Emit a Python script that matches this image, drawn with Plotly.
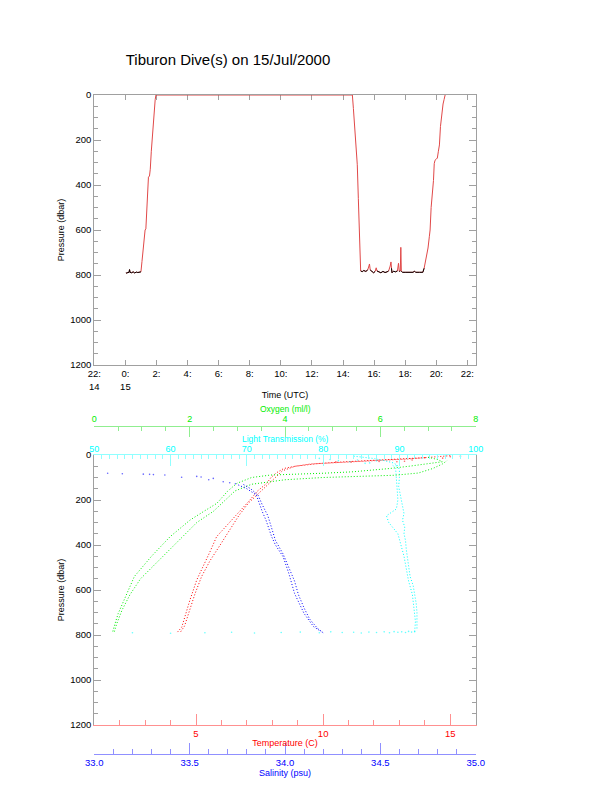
import plotly.graph_objects as go

FONT = "Liberation Sans, Arial, Helvetica, sans-serif"

# ---------------- Top panel: pressure vs time ----------------
dive_time = [
    "00:02", "00:06", "00:10", "00:14", "00:16", "00:18", "00:24", "00:30", "00:36", "00:42",
    "00:48", "00:54", "01:00", "01:04", "01:08", "01:13", "01:16", "01:19", "01:22", "01:26",
    "01:29", "01:33", "01:36", "01:40", "01:45", "01:50", "01:55", "01:58", "06:00", "10:00",
    "14:36", "14:40", "14:43", "14:45", "14:48", "14:51", "14:55", "14:59", "15:02", "15:05",
    "15:08", "15:14", "15:20", "15:28", "15:35", "15:40", "15:42", "15:45", "15:52", "15:58",
    "16:04", "16:08", "16:11", "16:18", "16:26", "16:34", "16:42", "16:50", "16:56", "17:02",
    "17:05", "17:07", "17:09", "17:15", "17:22", "17:30", "17:32", "17:34", "17:37", "17:41",
    "17:43", "17:45", "17:50", "18:00", "18:15", "18:30", "18:36", "18:40", "18:55", "19:08",
    "19:13", "19:18", "19:23", "19:28", "19:33", "19:36", "19:40", "19:45", "19:49", "19:52",
    "19:55", "20:00", "20:04", "20:08", "20:12", "20:16", "20:20", "20:23", "20:26", "20:30",
    "20:34",
]
dive_pressure = [
    790, 792, 788, 789, 776, 788, 790, 786, 791, 787,
    789, 788, 786, 740, 690, 640, 600, 595, 520, 420,
    365, 360, 330, 250, 160, 80, 20, 0, 0, 0,
    0, 60, 110, 140, 200, 250, 310, 460, 600, 720,
    782, 785, 780, 784, 778, 760, 751, 778, 786, 790,
    784, 768, 782, 787, 790, 784, 789, 786, 782, 760,
    742, 770, 790, 783, 786, 782, 760, 748, 784, 782,
    677, 784, 788, 788, 788, 788, 783, 788, 788, 788,
    770, 745, 720, 680, 630, 600, 500, 440, 380, 305,
    290, 285, 280, 250, 222, 140, 100, 60, 40, 20,
    0,
]
DIVE_DATE = "2000-07-15 "
time_tick_vals = ["2000-07-14 22:00"] + [DIVE_DATE + f"{h:02d}:00" for h in range(0, 23, 2)]
time_tick_text = ["22:<br>14", "0:<br>15"] + [f"{h}:" for h in range(2, 23, 2)]
time_range = ["2000-07-14 22:00", "2000-07-15 22:32"]

# ---------------- Bottom panel: profiles vs pressure ----------------
# Temperature (C)
temp_down_p = [3, 10, 18, 24, 30, 35, 40, 50, 60, 80, 100, 126, 160, 200, 240, 281, 320, 363, 430, 495, 555, 645, 720, 765, 790]
temp_down_T = [15.0, 14.2, 13.3, 12.2, 11.2, 10.5, 9.5, 8.9, 8.45, 8.15, 7.95, 7.78, 7.42, 7.12, 6.8, 6.47, 6.13, 5.81, 5.55, 5.29, 5.03, 4.76, 4.57, 4.44, 4.25]
temp_up_p = [785, 760, 700, 620, 540, 470, 400, 330, 270, 215, 175, 140, 100, 70, 50, 38, 30, 22, 12]
temp_up_T = [4.4, 4.55, 4.72, 4.95, 5.22, 5.55, 5.95, 6.35, 6.68, 7.05, 7.42, 7.75, 8.08, 8.4, 8.9, 9.8, 10.9, 12.4, 14.0]
temp_surf_p = [30, 31, 29, 30, 28, 22, 12, 14, 8, 5]
temp_surf_T = [10.5, 11.1, 12.2, 12.9, 13.2, 13.5, 14.0, 14.7, 15.0, 15.4]

# Salinity (psu)
sal_down_p = [133, 150, 178, 215, 250, 289, 325, 363, 400, 452, 526, 615, 660, 704, 740, 763, 785]
sal_down_S = [33.755, 33.8, 33.85, 33.865, 33.88, 33.9, 33.915, 33.93, 33.95, 33.99, 34.02, 34.05, 34.075, 34.1, 34.13, 34.15, 34.19]
sal_up_p = [790, 770, 730, 680, 620, 560, 500, 440, 380, 320, 270, 220, 180, 150, 130]
sal_up_S = [34.2, 34.17, 34.13, 34.1, 34.07, 34.05, 34.02, 33.99, 33.95, 33.93, 33.91, 33.88, 33.86, 33.82, 33.78]
sal_shallow_p = [81, 83, 85, 86, 87, 89, 99, 95, 98, 104, 119, 123, 110, 128]
sal_shallow_S = [33.07, 33.147, 33.257, 33.29, 33.31, 33.37, 33.458, 33.537, 33.56, 33.624, 33.676, 33.71, 33.6, 33.74]

# Oxygen (ml/l)
oxy_down_p = [10, 20, 30, 40, 50, 60, 68, 75, 81, 86, 89, 100, 126, 160, 215, 250, 289, 363, 450, 540, 615, 705, 760, 790]
oxy_down_O = [7.0, 7.2, 7.3, 7.0, 6.6, 6.2, 5.8, 5.4, 4.8, 4.2, 3.7, 3.3, 2.99, 2.8, 2.57, 2.3, 2.01, 1.59, 1.2, 0.84, 0.68, 0.5, 0.42, 0.38]
oxy_up_p = [785, 750, 690, 620, 550, 480, 420, 360, 300, 250, 200, 160, 130, 110, 100, 95, 90, 80, 60, 40, 25]
oxy_up_O = [0.42, 0.47, 0.58, 0.75, 0.97, 1.3, 1.58, 1.85, 2.15, 2.5, 2.75, 2.95, 3.3, 4.0, 4.8, 5.6, 6.3, 6.8, 7.1, 7.3, 7.4]

# Light transmission (%)
lt_down_p = [5, 15, 25, 35, 45, 55, 70, 100, 140, 170, 200, 230, 260, 290, 320, 350, 380, 420, 460, 500, 540, 580, 620, 660, 700, 740, 780]
lt_down_L = [84.0, 86.5, 88.0, 89.2, 89.7, 89.9, 90.0, 90.0, 89.9, 90.1, 90.3, 90.5, 90.6, 90.4, 90.7, 90.6, 90.8, 90.9, 91.1, 91.3, 91.4, 91.8, 92.0, 92.2, 92.3, 92.3, 92.3]
lt_up_p = [785, 740, 680, 620, 560, 500, 450, 400, 350, 300, 270, 240, 200, 150, 100, 60, 40]
lt_up_L = [92.0, 92.1, 91.9, 91.7, 91.2, 90.9, 90.6, 90.2, 89.8, 88.6, 88.3, 89.6, 89.8, 89.7, 89.6, 89.5, 89.0]
lt_bottom_p = [790, 788, 791, 789, 787, 790, 786, 789, 788, 791, 787, 789, 786, 790, 785, 788, 786, 789, 784, 787, 785, 790, 792]
lt_bottom_L = [64.5, 68.0, 71.0, 74.5, 77.0, 79.5, 81.0, 82.5, 84.0, 85.0, 86.0, 87.0, 88.0, 88.7, 89.3, 89.8, 90.3, 90.8, 91.2, 91.6, 92.0, 55.0, 60.0]
lt_surf_p = [20, 25, 30, 22, 35, 37, 48, 26, 15]
lt_surf_L = [80.9, 82.0, 83.5, 84.5, 86.1, 85.5, 89.6, 87.0, 79.5]

RED, GREEN, BLUE, CYAN = "#ff0000", "#00ee00", "#0000ff", "#00ffff"
RED_L, GREEN_L, BLUE_L, CYAN_L, GRAY = "#ff9090", "#90ee90", "#9090ff", "#90ffff", "#a0a0a0"

# The page body has an 8px margin, so the figure is drawn 8px in from the window corner.
OFF = 8
W, H = 612 - OFF, 785 - OFF


def fx(px):
    return (px - OFF) / W


def fy(py):
    return 1 - (py - OFF) / H


fig = go.Figure()

# ---- top panel traces
times = [DIVE_DATE + t for t in dive_time]
fig.add_trace(go.Scatter(x=times, y=dive_pressure, mode="lines",
                         line=dict(color="#e04848", width=1), xaxis="x", yaxis="y"))
bottom_only = [p if p >= 770 else None for p in dive_pressure]
fig.add_trace(go.Scatter(x=times, y=bottom_only, mode="lines", connectgaps=False,
                         line=dict(color="black", width=1), xaxis="x", yaxis="y"))

# ---- bottom panel traces
DOT = "1px,2px"


def prof(x, y, color, xa):
    fig.add_trace(go.Scatter(x=x, y=y, mode="lines", line=dict(color=color, width=1, dash=DOT),
                             xaxis=xa, yaxis="y2"))


def pts(x, y, color, xa):
    fig.add_trace(go.Scatter(x=x, y=y, mode="markers", opacity=0.6,
                             marker=dict(color=color, size=1.6, line=dict(width=0)),
                             xaxis=xa, yaxis="y2"))


prof(lt_down_L, lt_down_p, CYAN, "x3")
prof(lt_up_L, lt_up_p, CYAN, "x3")
pts(lt_bottom_L, lt_bottom_p, CYAN, "x3")
pts(lt_surf_L, lt_surf_p, CYAN, "x3")
prof(oxy_down_O, oxy_down_p, GREEN, "x4")
prof(oxy_up_O, oxy_up_p, GREEN, "x4")
prof(temp_down_T, temp_down_p, RED, "x2")
prof(temp_up_T, temp_up_p, RED, "x2")
pts(temp_surf_T, temp_surf_p, RED, "x2")
prof(sal_down_S, sal_down_p, BLUE, "x5")
prof(sal_up_S, sal_up_p, BLUE, "x5")
pts(sal_shallow_S, sal_shallow_p, BLUE, "x5")

XDOM = [fx(94.3), fx(475.7)]
TOP_DOM = [fy(365), fy(95)]
BOT_DOM = [fy(725), fy(455)]
TICKF = dict(family=FONT, size=9.5)
TITLEF = dict(family=FONT, size=9)

common = dict(showgrid=False, zeroline=False, showline=True, linewidth=1, automargin=False)

fig.update_layout(
    width=W, height=H, margin=dict(l=0, r=0, t=0, b=0),
    paper_bgcolor="white", plot_bgcolor="white", showlegend=False,
    font=dict(family=FONT, size=9.5, color="black"),
    title=dict(text="Tiburon Dive(s) on 15/Jul/2000", x=fx(228), xanchor="center",
               y=fy(60), yanchor="middle", font=dict(family=FONT, size=15, color="black")),
    xaxis=dict(**common, domain=XDOM, anchor="y", type="date", range=time_range, layer="below traces",
               tickmode="array", tickvals=time_tick_vals, ticktext=time_tick_text,
               ticks="inside", ticklen=5, tickcolor=GRAY, linecolor=GRAY, mirror="ticks",
               tickfont=TICKF, title=dict(text="Time (UTC)", font=TITLEF, standoff=0)),
    yaxis=dict(**common, domain=TOP_DOM, anchor="x", range=[1200, 0], dtick=200, tick0=0,
               layer="below traces",
               ticks="inside", ticklen=7, tickcolor=GRAY, linecolor=GRAY, mirror="ticks",
               minor=dict(dtick=50, ticks="inside", ticklen=4, tickcolor=GRAY),
               tickfont=TICKF, title=dict(text="Pressure (dbar)", font=TITLEF, standoff=4)),
    yaxis2=dict(**common, domain=BOT_DOM, anchor="x2", range=[1200, 0], dtick=200, tick0=0,
                ticks="inside", ticklen=7, tickcolor=GRAY, linecolor=GRAY, mirror="ticks",
                minor=dict(dtick=50, ticks="inside", ticklen=4, tickcolor=GRAY),
                tickfont=TICKF, title=dict(text="Pressure (dbar)", font=TITLEF, standoff=4)),
    xaxis2=dict(**common, domain=XDOM, anchor="y2", side="bottom", range=[1, 16], dtick=5, tick0=0,
                ticks="inside", ticklen=11, tickcolor=RED_L, linecolor=RED_L,
                minor=dict(dtick=1, ticks="inside", ticklen=5, tickcolor=RED_L),
                tickfont=dict(family=FONT, size=9.5, color=RED),
                title=dict(text="Temperature (C)", font=dict(family=FONT, size=9, color=RED), standoff=1)),
    xaxis3=dict(**common, overlaying="x2", anchor="y2", side="top", range=[50, 100], dtick=10, tick0=0,
                ticks="inside", ticklen=11, tickcolor=CYAN_L, linecolor=CYAN_L, ticklabelstandoff=-2,
                minor=dict(dtick=1, ticks="inside", ticklen=4, tickcolor=CYAN_L),
                tickfont=dict(family=FONT, size=9, color=CYAN)),
    xaxis4=dict(**common, overlaying="x2", anchor="free", position=fy(425.7), side="top",
                range=[0, 8], dtick=2, tick0=0,
                ticks="inside", ticklen=10, tickcolor=GREEN_L, linecolor=GREEN_L,
                minor=dict(dtick=0.5, ticks="inside", ticklen=4, tickcolor=GREEN_L),
                tickfont=dict(family=FONT, size=9, color=GREEN)),
    xaxis5=dict(**common, overlaying="x2", anchor="free", position=fy(754), side="bottom",
                range=[33, 35], dtick=0.5, tick0=33, tickformat=".1f",
                ticks="inside", ticklen=11, tickcolor=BLUE_L, linecolor=BLUE_L,
                minor=dict(dtick=0.1, ticks="inside", ticklen=5, tickcolor=BLUE_L),
                tickfont=dict(family=FONT, size=9.5, color=BLUE),
                title=dict(text="Salinity (psu)", font=dict(family=FONT, size=9, color=BLUE), standoff=0)),
    annotations=[
        dict(text="Oxygen (ml/l)", x=fx(285), y=fy(408.5), xref="paper", yref="paper",
             xanchor="center", yanchor="middle", showarrow=False, borderpad=0,
             font=dict(family=FONT, size=8.5, color=GREEN)),
        dict(text="Light Transmission (%)", x=fx(285), y=fy(439), xref="paper", yref="paper",
             xanchor="center", yanchor="middle", showarrow=False, borderpad=0,
             font=dict(family=FONT, size=8.5, color=CYAN)),
    ],
)

fig.write_html("out.html")
